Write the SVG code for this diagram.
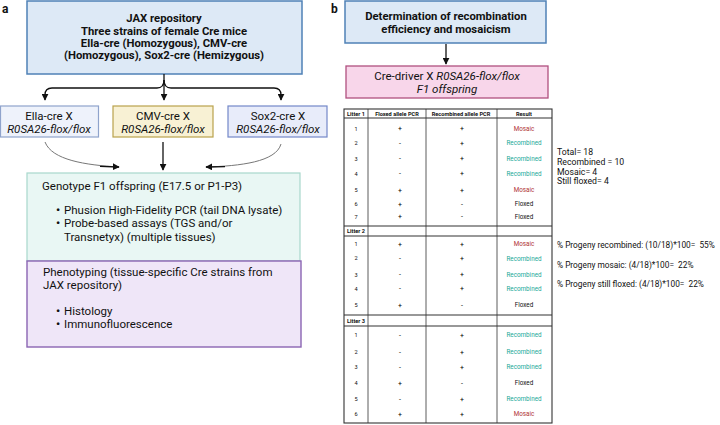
<svg xmlns="http://www.w3.org/2000/svg" width="720" height="425" viewBox="0 0 720 425">
<defs>
<marker id="ah" viewBox="0 0 10 10" refX="9" refY="5" markerWidth="7" markerHeight="7" markerUnits="userSpaceOnUse" orient="auto"><path d="M0,0 L10,5 L0,10 Z" fill="#111"/></marker>
<style>
text{font-family:Roboto,"Liberation Sans",sans-serif;fill:#111}
.lbl{font-size:12px;font-weight:bold}
.b{font-weight:bold}
.t12{font-size:11.3px}
.t13{font-size:11.5px}
.bu{font-size:11.5px;font-weight:bold}
.it{font-style:italic}
.c{text-anchor:middle}
.conn{fill:none;stroke:#111;stroke-width:1.3}
.tl{stroke:#333;stroke-width:0.8;fill:none}
.th{stroke:#333;stroke-width:1.1;fill:none}
.hd{font-size:5.6px;font-weight:bold;text-anchor:middle}
.n{font-size:5.6px;text-anchor:middle}
.pm{font-size:7px;text-anchor:middle;fill:#000}
.m{font-size:6.3px;text-anchor:middle;fill:#b03535}
.r{font-size:6.3px;text-anchor:middle;fill:#1aa898}
.f{font-size:6.3px;text-anchor:middle}
.st{font-size:8.7px}
.sp{font-size:8.3px}
</style>
</defs>
<rect width="720" height="425" fill="#fff"/>
<text x="2" y="13" class="lbl">a</text>
<text x="331" y="13" class="lbl">b</text>

<g id="jax">
<rect x="27" y="1" width="275" height="73" fill="#dde9f6" stroke="#4f81b6" stroke-width="1.5"/>
<text x="164" y="22" class="t12 b c">JAX repository</text>
<text x="164" y="35" class="t12 b c">Three strains of female Cre mice</text>
<text x="164" y="47" class="t12 b c">Ella-cre (Homozygous), CMV-cre</text>
<text x="164" y="59" class="t12 b c">(Homozygous), Sox2-cre (Hemizygous)</text>
</g>

<g id="ella">
<rect x="0.5" y="106" width="98" height="31" fill="#eef2fb" stroke="#8fa3cc" stroke-width="1.2"/>
<text x="49" y="120" class="t13 c">Ella-cre X</text>
<text x="49" y="133" class="t13 c it">R0SA26-flox/flox</text>
</g>
<g id="cmv">
<rect x="113" y="106" width="100" height="31" fill="#f8f1d4" stroke="#b9a24c" stroke-width="1.2"/>
<text x="163" y="120" class="t13 c">CMV-cre X</text>
<text x="163" y="133" class="t13 c it">R0SA26-flox/flox</text>
</g>
<g id="sox2">
<rect x="228" y="106" width="99" height="31" fill="#e8ecfa" stroke="#7388c8" stroke-width="1.2"/>
<text x="278" y="120" class="t13 c">Sox2-cre X</text>
<text x="278" y="133" class="t13 c it">R0SA26-flox/flox</text>
</g>

<g id="genotype">
<rect x="27" y="173" width="273" height="88" fill="#e9f7f4" stroke="#a8d8cc" stroke-width="1.2"/>
<text x="42" y="190" class="t13">Genotype F1 offspring (E17.5 or P1-P3)</text>
<text x="56" y="214" class="bu">•</text>
<text x="64" y="214" class="t13">Phusion High-Fidelity PCR (tail DNA lysate)</text>
<text x="56" y="227" class="bu">•</text>
<text x="64" y="227" class="t13">Probe-based assays (TGS and/or</text>
<text x="64" y="241" class="t13">Transnetyx) (multiple tissues)</text>
</g>
<g id="phenotyping">
<rect x="27" y="261" width="274" height="86" fill="#efe6f8" stroke="#8b64b3" stroke-width="1.4"/>
<text x="43" y="276" class="t13">Phenotyping (tissue-specific Cre strains from</text>
<text x="43" y="289" class="t13">JAX repository)</text>
<text x="56" y="315" class="bu">•</text>
<text x="64" y="315" class="t13">Histology</text>
<text x="56" y="328" class="bu">•</text>
<text x="64" y="328" class="t13">Immunofluorescence</text>
</g>

<g id="determination">
<rect x="345" y="1" width="201" height="42" fill="#dde9f6" stroke="#4f81b6" stroke-width="1.5"/>
<text x="446" y="20" class="t12 b c">Determination of recombination</text>
<text x="446" y="33" class="t12 b c">efficiency and mosaicism</text>
</g>
<g id="credriver">
<rect x="346" y="66" width="202" height="32" fill="#f8d6ea" stroke="#b0507f" stroke-width="1.3"/>
<text x="447" y="80" class="t13 c">Cre-driver X <tspan class="it">R0SA26-flox/flox</tspan></text>
<text x="447" y="93" class="t13 c it">F1 offspring</text>
</g>

<g id="connectors">
<path class="conn" d="M164,74 V100" marker-end="url(#ah)"/>
<path class="conn" d="M164,80 Q164,88 157,88 H52 Q45,88 45,95 V100" marker-end="url(#ah)"/>
<path class="conn" d="M164,80 Q164,88 171,88 H274 Q281,88 281,95 V100" marker-end="url(#ah)"/>
<path class="conn" d="M163,142 V170" marker-end="url(#ah)"/>
<path d="M45,142 C52,160 85,165 119,167" fill="none" stroke="#777" stroke-width="1"/>
<path class="conn" d="M100,166.3 L119,167" marker-end="url(#ah)"/>
<path d="M281,144 C276,162 240,166 206,167" fill="none" stroke="#777" stroke-width="1"/>
<path class="conn" d="M225,166.6 L206,167" marker-end="url(#ah)"/>
<path class="conn" d="M446,44 V64" marker-end="url(#ah)"/>
</g>

<g id="table">
<rect x="344" y="109" width="208" height="314" class="th"/>
<path class="tl" d="M368,109 V423 M426,109 V423 M497,109 V423"/>
<path class="th" d="M344,118 H552 M344,226 H552 M344,236 H552 M344,315 H552 M344,326 H552"/>
<text x="356" y="115.5" class="hd">Litter 1</text>
<text x="397" y="115.5" class="hd">Floxed allele PCR</text>
<text x="461" y="115.5" class="hd">Recombined allele PCR</text>
<text x="524" y="115.5" class="hd">Result</text>
<text x="356" y="233" class="hd">Litter 2</text>
<text x="356" y="323" class="hd">Litter 3</text>

<text x="356" y="130.5" class="n">1</text><text x="400" y="131" class="pm">+</text><text x="462" y="131" class="pm">+</text><text x="524" y="130.5" class="m">Mosaic</text>
<text x="356" y="145" class="n">2</text><text x="400" y="145.5" class="pm">-</text><text x="462" y="145.5" class="pm">+</text><text x="524" y="145" class="r">Recombined</text>
<text x="356" y="160.5" class="n">3</text><text x="400" y="161" class="pm">-</text><text x="462" y="161" class="pm">+</text><text x="524" y="160.5" class="r">Recombined</text>
<text x="356" y="175.5" class="n">4</text><text x="400" y="176" class="pm">-</text><text x="462" y="176" class="pm">+</text><text x="524" y="175.5" class="r">Recombined</text>
<text x="356" y="192" class="n">5</text><text x="400" y="192.5" class="pm">+</text><text x="462" y="192.5" class="pm">+</text><text x="524" y="192" class="m">Mosaic</text>
<text x="356" y="206" class="n">6</text><text x="400" y="206.5" class="pm">+</text><text x="462" y="206.5" class="pm">-</text><text x="524" y="206" class="f">Floxed</text>
<text x="356" y="218.5" class="n">7</text><text x="400" y="219" class="pm">+</text><text x="462" y="219" class="pm">-</text><text x="524" y="218.5" class="f">Floxed</text>

<text x="356" y="246" class="n">1</text><text x="400" y="246.5" class="pm">+</text><text x="462" y="246.5" class="pm">+</text><text x="524" y="246" class="m">Mosaic</text>
<text x="356" y="260" class="n">2</text><text x="400" y="260.5" class="pm">-</text><text x="462" y="260.5" class="pm">+</text><text x="524" y="260.5" class="r">Recombined</text>
<text x="356" y="276.5" class="n">3</text><text x="400" y="277" class="pm">-</text><text x="462" y="277" class="pm">+</text><text x="524" y="276.5" class="r">Recombined</text>
<text x="356" y="290.5" class="n">4</text><text x="400" y="291" class="pm">-</text><text x="462" y="291" class="pm">+</text><text x="524" y="290.5" class="r">Recombined</text>
<text x="356" y="307" class="n">5</text><text x="400" y="307.5" class="pm">+</text><text x="462" y="307.5" class="pm">-</text><text x="524" y="307" class="f">Floxed</text>

<text x="356" y="337" class="n">1</text><text x="400" y="337.5" class="pm">-</text><text x="462" y="337.5" class="pm">+</text><text x="524" y="337" class="r">Recombined</text>
<text x="356" y="354" class="n">2</text><text x="400" y="354.5" class="pm">-</text><text x="462" y="354.5" class="pm">+</text><text x="524" y="354" class="r">Recombined</text>
<text x="356" y="369" class="n">3</text><text x="400" y="369.5" class="pm">-</text><text x="462" y="369.5" class="pm">+</text><text x="524" y="369" class="r">Recombined</text>
<text x="356" y="385" class="n">4</text><text x="400" y="385.5" class="pm">+</text><text x="462" y="385.5" class="pm">-</text><text x="524" y="385" class="f">Floxed</text>
<text x="356" y="401" class="n">5</text><text x="400" y="401.5" class="pm">-</text><text x="462" y="401.5" class="pm">+</text><text x="524" y="401" class="r">Recombined</text>
<text x="356" y="416" class="n">6</text><text x="400" y="416.5" class="pm">+</text><text x="462" y="416.5" class="pm">+</text><text x="524" y="416" class="m">Mosaic</text>
</g>

<g id="stats">
<text x="557" y="155" class="st">Total= 18</text>
<text x="557" y="165" class="st">Recombined = 10</text>
<text x="557" y="174.5" class="st">Mosaic= 4</text>
<text x="557" y="184" class="st">Still floxed= 4</text>
<text x="557" y="248" class="sp" xml:space="preserve">% Progeny recombined: (10/18)*100=  55%</text>
<text x="557" y="268" class="sp" xml:space="preserve">% Progeny mosaic: (4/18)*100=  22%</text>
<text x="557" y="287" class="sp" xml:space="preserve">% Progeny still floxed: (4/18)*100=  22%</text>
</g>
</svg>
